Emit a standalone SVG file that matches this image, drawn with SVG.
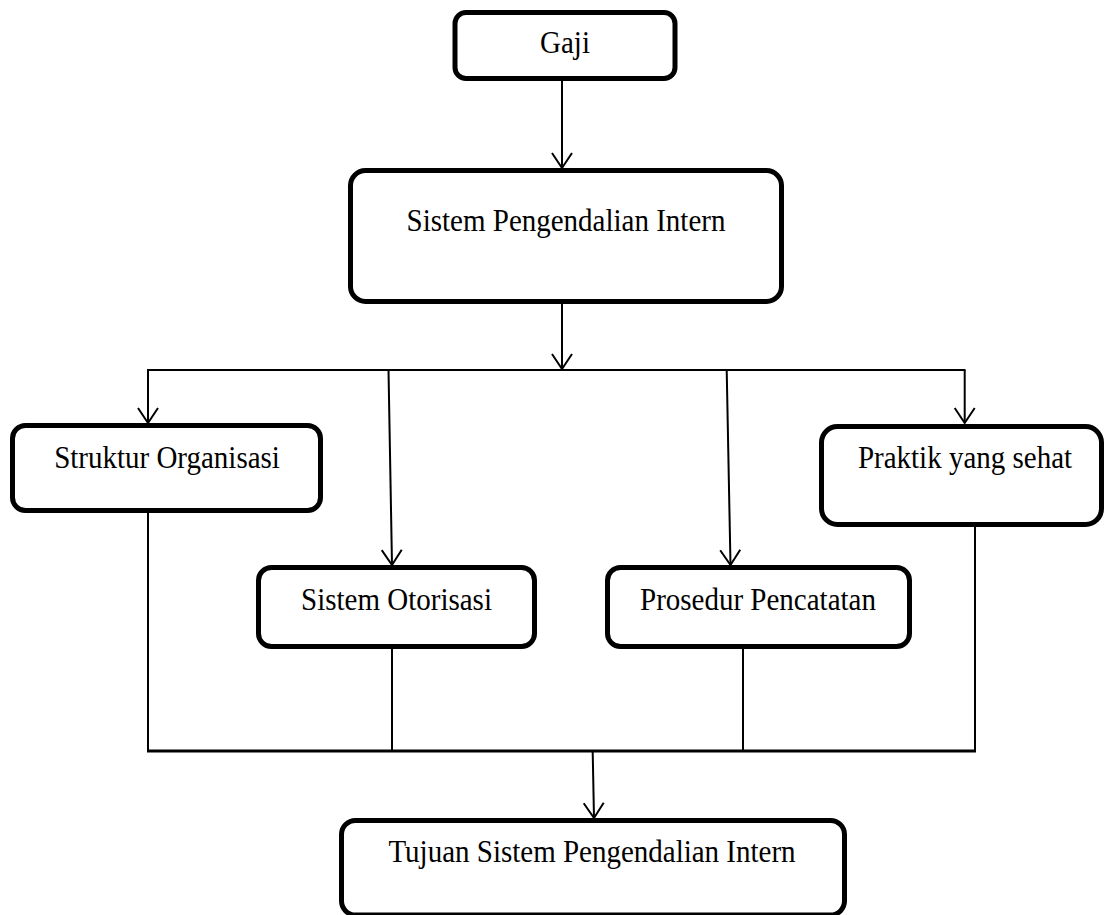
<svg xmlns="http://www.w3.org/2000/svg" width="1104" height="915" viewBox="0 0 1104 915">
<style>
.box{fill:#fff;stroke:#000;stroke-width:5}
.lbl{font-family:"Liberation Serif","Times New Roman",serif;font-size:29px;fill:#000;text-anchor:middle}
.ln{fill:none;stroke:#000;stroke-width:2}
.thick{fill:none;stroke:#000;stroke-width:3}
</style>
<defs>
<marker id="arr" markerWidth="20" markerHeight="24" refX="16" refY="11" orient="auto" markerUnits="userSpaceOnUse" viewBox="0 0 20 24">
<path d="M1,1 L16,11 L1,21" fill="none" stroke="#000" stroke-width="2"/>
</marker>
</defs>
<rect width="1104" height="915" fill="#fff"/>
<g id="connectors">
<line class="ln" x1="562" y1="81" x2="562" y2="168" marker-end="url(#arr)"/>
<line class="ln" x1="562" y1="304" x2="562" y2="369" marker-end="url(#arr)"/>
<line class="ln" x1="147" y1="370" x2="965.5" y2="370"/>
<line class="ln" x1="148" y1="370" x2="148" y2="423" marker-end="url(#arr)"/>
<line class="ln" x1="388.5" y1="370" x2="392" y2="565" marker-end="url(#arr)"/>
<line class="ln" x1="726.7" y1="370" x2="730.5" y2="565" marker-end="url(#arr)"/>
<line class="ln" x1="964.7" y1="370" x2="964.7" y2="423" marker-end="url(#arr)"/>
<line class="ln" x1="148" y1="513" x2="148" y2="751"/>
<line class="ln" x1="392" y1="649" x2="392" y2="751"/>
<line class="ln" x1="743" y1="649" x2="743" y2="751"/>
<line class="ln" x1="975" y1="527" x2="975" y2="751"/>
<line class="thick" x1="147" y1="751" x2="976" y2="751"/>
<line class="ln" x1="592.7" y1="752" x2="594" y2="818" marker-end="url(#arr)"/>
</g>
<g id="node-gaji">
<rect class="box" x="455" y="12.5" width="220" height="66" rx="11"/>
<text class="lbl" transform="translate(565,53) scale(1,1.08)">Gaji</text>
</g>
<g id="node-spi">
<rect class="box" x="350.5" y="170.5" width="431" height="131" rx="15"/>
<text class="lbl" transform="translate(566,231) scale(1,1.08)">Sistem Pengendalian Intern</text>
</g>
<g id="node-struktur">
<rect class="box" x="12.5" y="425.5" width="308" height="85" rx="13"/>
<text class="lbl" transform="translate(167,468) scale(1,1.08)">Struktur Organisasi</text>
</g>
<g id="node-praktik">
<rect class="box" x="821.5" y="426.5" width="280" height="98" rx="16"/>
<text class="lbl" transform="translate(965,468) scale(1,1.08)">Praktik yang sehat</text>
</g>
<g id="node-otorisasi">
<rect class="box" x="258.5" y="567.5" width="276" height="79" rx="13"/>
<text class="lbl" transform="translate(396.5,610) scale(1,1.08)">Sistem Otorisasi</text>
</g>
<g id="node-prosedur">
<rect class="box" x="607.5" y="567.5" width="302" height="79" rx="13"/>
<text class="lbl" transform="translate(758,610) scale(1,1.08)">Prosedur Pencatatan</text>
</g>
<g id="node-tujuan">
<rect class="box" x="341.5" y="820.5" width="503" height="94.5" rx="14"/>
<text class="lbl" transform="translate(592,862) scale(1,1.08)">Tujuan Sistem Pengendalian Intern</text>
</g>
</svg>
